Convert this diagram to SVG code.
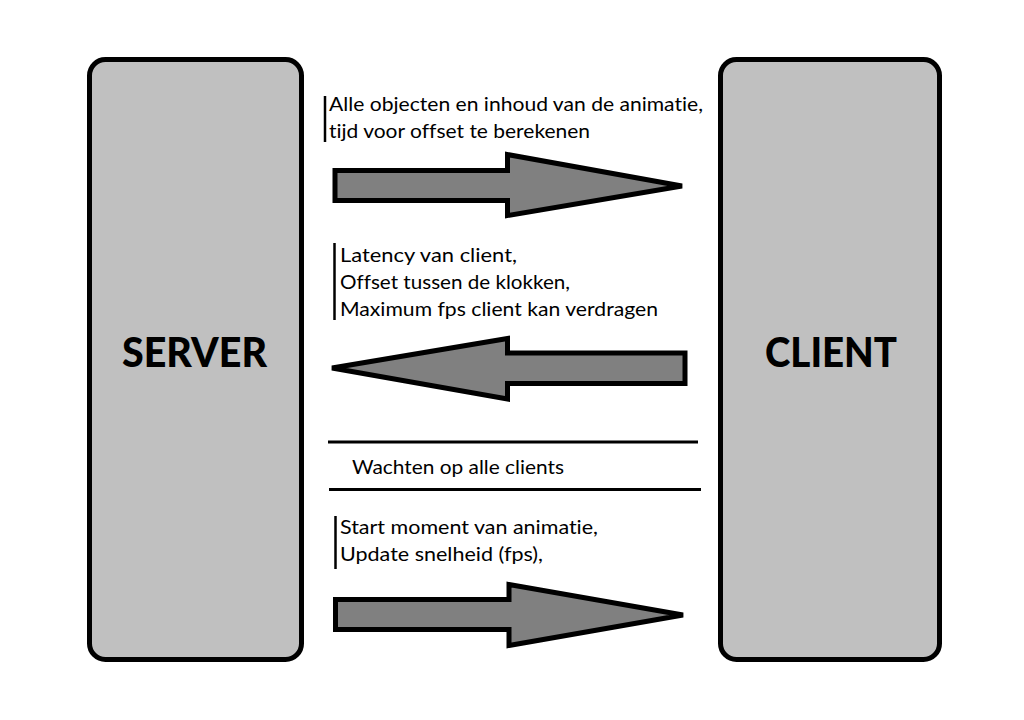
<svg xmlns="http://www.w3.org/2000/svg" width="1024" height="720" viewBox="0 0 1024 720">
<style>
.box{fill:#c0c0c0;stroke:#000;stroke-width:5}
.arrow{fill:#808080;stroke:#000;stroke-width:5;stroke-miterlimit:4}
.bar{stroke:#000;stroke-width:2.5}
.sep{stroke:#000;stroke-width:3}
.t{font-family:Lato,"Liberation Sans",sans-serif;font-size:20px;fill:#000;font-variant-ligatures:none}
.big{font-family:Lato,"Liberation Sans",sans-serif;font-size:41px;font-weight:900;fill:#000}
</style>
<rect width="1024" height="720" fill="#fff"/>
<g id="server">
<rect class="box" x="89.5" y="59.5" width="212" height="600" rx="16"/>
<text class="big" x="122" y="367" textLength="145" lengthAdjust="spacingAndGlyphs">SERVER</text>
</g>
<g id="client">
<rect class="box" x="720.5" y="59.5" width="219" height="600" rx="16"/>
<text class="big" x="765" y="367" textLength="132" lengthAdjust="spacingAndGlyphs">CLIENT</text>
</g>
<g id="connectors">
<path class="arrow" d="M335,170.5 L507.5,170.5 L507.5,154.5 L682,186 L507.5,215.5 L507.5,200.5 L335,200.5 Z"/>
<path class="arrow" d="M685,353 L507.5,353 L507.5,338.5 L332,368 L507.5,399 L507.5,383.5 L685,383.5 Z"/>
<path class="arrow" d="M335.5,599.5 L509,599.5 L509,584.5 L683,615 L509,645.5 L509,629.5 L335.5,629.5 Z"/>
</g>
<g id="label1">
<line class="bar" x1="325" y1="96" x2="325" y2="142"/>
<text class="t" x="329" y="111" textLength="374" lengthAdjust="spacingAndGlyphs">Alle objecten en inhoud van de animatie,</text>
<text class="t" x="329" y="138" textLength="261" lengthAdjust="spacingAndGlyphs">tijd voor offset te berekenen</text>
</g>
<g id="label2">
<line class="bar" x1="334.5" y1="243" x2="334.5" y2="320"/>
<text class="t" x="340" y="262" textLength="177" lengthAdjust="spacingAndGlyphs">Latency van client,</text>
<text class="t" x="340" y="289" textLength="230" lengthAdjust="spacingAndGlyphs">Offset tussen de klokken,</text>
<text class="t" x="340" y="316" textLength="318" lengthAdjust="spacingAndGlyphs">Maximum fps client kan verdragen</text>
</g>
<g id="wait">
<line class="sep" x1="328" y1="442" x2="698" y2="442"/>
<text class="t" x="352" y="474" textLength="212" lengthAdjust="spacingAndGlyphs">Wachten op alle clients</text>
<line class="sep" x1="329" y1="489.5" x2="701" y2="489.5"/>
</g>
<g id="label3">
<line class="bar" x1="335.5" y1="516" x2="335.5" y2="569"/>
<text class="t" x="340" y="534" textLength="258" lengthAdjust="spacingAndGlyphs">Start moment van animatie,</text>
<text class="t" x="340" y="561" textLength="203" lengthAdjust="spacingAndGlyphs">Update snelheid (fps),</text>
</g>
</svg>
